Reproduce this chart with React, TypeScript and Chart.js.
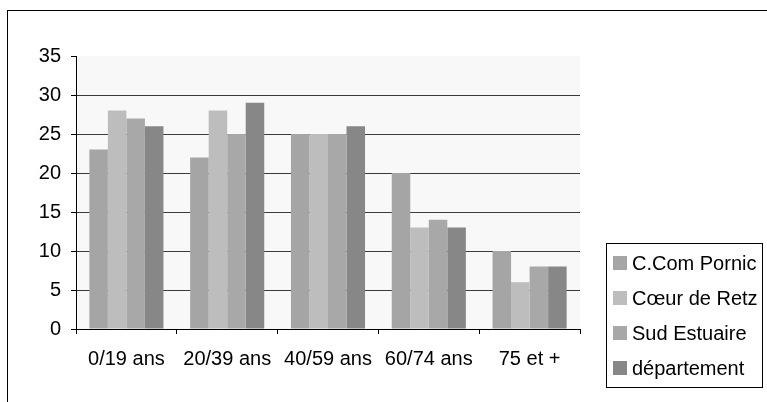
import React, { useEffect, useRef } from "react";
import { Chart, registerables } from "chart.js";

Chart.register(...registerables);

const categories = ["0/19 ans", "20/39 ans", "40/59 ans", "60/74 ans", "75 et +"];
const seriesNames = ["C.Com Pornic", "Cœur de Retz", "Sud Estuaire", "département"];
const pornic = [23, 22, 25, 20, 10];
const coeurDeRetz = [28, 28, 25, 13, 6];
const sudEstuaire = [27, 25, 25, 14, 8];
const departement = [26, 29, 26, 13, 8];
const seriesColors = ["#a5a5a5", "#bdbdbd", "#a8a8a8", "#878787"];
const yTicks = [0, 5, 10, 15, 20, 25, 30, 35];

const FONT = '"Liberation Sans", Arial, sans-serif';

const framePlugin = {
  id: "frame",
  beforeDraw(chart: any) {
    const { ctx, chartArea } = chart;
    ctx.save();
    ctx.fillStyle = "#ffffff";
    ctx.fillRect(0, 0, chart.width, chart.height);
    ctx.fillStyle = "#f8f8f8";
    ctx.fillRect(chartArea.left, chartArea.top, chartArea.right - chartArea.left, chartArea.bottom - chartArea.top);
    ctx.strokeStyle = "#000";
    ctx.lineWidth = 1;
    ctx.strokeRect(7.5, 10.5, chart.width + 20, chart.height + 20);
    ctx.restore();
  },
  afterDraw(chart: any) {
    const { ctx } = chart;
    ctx.save();
    ctx.strokeStyle = "#000";
    ctx.lineWidth = 1;
    ctx.strokeRect(606.5, 243.5, 156, 144);
    ctx.font = `20px ${FONT}`;
    ctx.textBaseline = "middle";
    ctx.textAlign = "left";
    chart.data.datasets.forEach((ds: any, i: number) => {
      const cy = 263 + i * 35;
      ctx.fillStyle = ds.backgroundColor;
      ctx.fillRect(613, cy - 7, 14, 14);
      ctx.fillStyle = "#000";
      ctx.fillText(ds.label, 632, cy + 1);
    });
    ctx.restore();
  },
};

export default function App() {
  const ref = useRef<HTMLCanvasElement | null>(null);
  useEffect(() => {
    if (!ref.current) return;
    const values = [pornic, coeurDeRetz, sudEstuaire, departement];
    const chart = new Chart(ref.current, {
      type: "bar",
      data: {
        labels: categories,
        datasets: seriesNames.map((name, i) => ({
          label: name,
          data: values[i],
          backgroundColor: seriesColors[i],
          borderWidth: 0,
          categoryPercentage: 0.735,
          barPercentage: 1,
        })),
      },
      options: {
        animation: false,
        responsive: false,
        devicePixelRatio: 1,
        layout: { padding: { left: 0, top: 56, right: 187, bottom: 0 } },
        plugins: { legend: { display: false }, tooltip: { enabled: false } },
        scales: {
          x: {
            offset: true,
            grid: {
              display: true,
              drawOnChartArea: false,
              drawTicks: true,
              tickLength: 5,
              color: "#000",
              tickColor: "#000",
              offset: true,
            },
            border: { color: "#000" },
            ticks: { color: "#000", font: { size: 20, family: FONT }, padding: 13, maxRotation: 0, autoSkip: false },
            afterFit(scale: any) {
              scale.height = 73;
            },
          },
          y: {
            min: 0,
            max: 35,
            afterBuildTicks(scale: any) {
              scale.ticks = yTicks.map((v) => ({ value: v }));
            },
            grid: {
              color: (c: any) => (c.tick && c.tick.value === 35 ? "rgba(0,0,0,0)" : "#3a3a3a"),
              tickColor: "#000",
              tickLength: 5,
              drawTicks: true,
            },
            border: { color: "#000" },
            ticks: { color: "#000", font: { size: 20, family: FONT }, padding: 10 },
            afterFit(scale: any) {
              scale.width = 76;
            },
          },
        },
      },
      plugins: [framePlugin],
    });
    return () => chart.destroy();
  }, []);
  return (
    <div style={{ position: "absolute", left: 0, top: 0, width: 767, height: 402 }}>
      <canvas ref={ref} width={767} height={402} style={{ display: "block" }} />
    </div>
  );
}
